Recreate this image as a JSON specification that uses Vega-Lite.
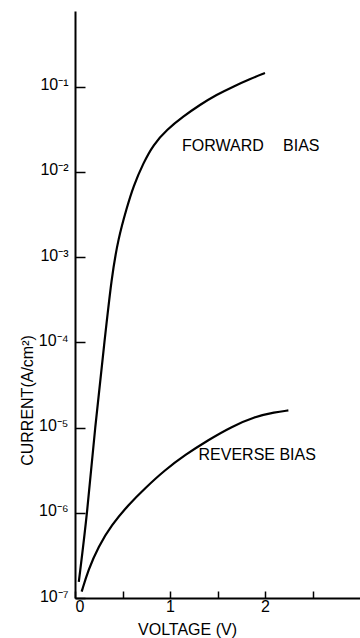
{
  "$schema": "https://vega.github.io/schema/vega-lite/v6.json",
  "width": 285,
  "height": 587,
  "autosize": {"type": "none"},
  "padding": {"left": 75, "top": 11, "right": 0, "bottom": 40},
  "background": "white",
  "config": {"view": {"stroke": null}, "font": "Liberation Sans"},
  "datasets": {
    "curves": [
      {"bias": "forward", "voltage": 0.04, "current": 1.549e-7},
      {"bias": "forward", "voltage": 0.13, "current": 1e-6},
      {"bias": "forward", "voltage": 0.21, "current": 1e-5},
      {"bias": "forward", "voltage": 0.31, "current": 1e-4},
      {"bias": "forward", "voltage": 0.386, "current": 5.888e-4},
      {"bias": "forward", "voltage": 0.456, "current": 1.660e-3},
      {"bias": "forward", "voltage": 0.544, "current": 3.750e-3},
      {"bias": "forward", "voltage": 0.614, "current": 6.761e-3},
      {"bias": "forward", "voltage": 0.719, "current": 1.265e-2},
      {"bias": "forward", "voltage": 0.824, "current": 2.075e-2},
      {"bias": "forward", "voltage": 0.965, "current": 3.112e-2},
      {"bias": "forward", "voltage": 1.14, "current": 4.457e-2},
      {"bias": "forward", "voltage": 1.316, "current": 6.109e-2},
      {"bias": "forward", "voltage": 1.49, "current": 8.017e-2},
      {"bias": "forward", "voltage": 1.666, "current": 0.1},
      {"bias": "forward", "voltage": 1.842, "current": 0.1225},
      {"bias": "forward", "voltage": 2.0, "current": 0.1439},
      {"bias": "reverse", "voltage": 0.07, "current": 1.186e-7},
      {"bias": "reverse", "voltage": 0.14, "current": 2.133e-7},
      {"bias": "reverse", "voltage": 0.245, "current": 3.999e-7},
      {"bias": "reverse", "voltage": 0.386, "current": 7.194e-7},
      {"bias": "reverse", "voltage": 0.561, "current": 1.236e-6},
      {"bias": "reverse", "voltage": 0.737, "current": 1.941e-6},
      {"bias": "reverse", "voltage": 0.947, "current": 3.177e-6},
      {"bias": "reverse", "voltage": 1.158, "current": 4.764e-6},
      {"bias": "reverse", "voltage": 1.404, "current": 7.145e-6},
      {"bias": "reverse", "voltage": 1.649, "current": 1.023e-5},
      {"bias": "reverse", "voltage": 1.895, "current": 1.343e-5},
      {"bias": "reverse", "voltage": 2.105, "current": 1.514e-5},
      {"bias": "reverse", "voltage": 2.246, "current": 1.585e-5}
    ],
    "labels": [
      {"text": "FORWARD", "voltage": 1.126, "current": 0.0173},
      {"text": "BIAS", "voltage": 2.19, "current": 0.0173},
      {"text": "REVERSE BIAS", "voltage": 1.30, "current": 4.17e-6}
    ]
  },
  "layer": [
    {
      "data": {"name": "curves"},
      "mark": {"type": "line", "color": "black", "strokeWidth": 2.2, "interpolate": "basis"},
      "encoding": {
        "x": {
          "field": "voltage", "type": "quantitative",
          "scale": {"domain": [0, 3], "nice": false, "zero": false},
          "axis": {
            "title": "VOLTAGE (V)",
            "values": [0.5, 1, 1.5, 2, 2.5, 0],
            "labelExpr": "datum.value % 1 == 0 ? format(datum.value, 'd') : ''",
            "grid": false, "ticks": true, "tickSize": -7, "tickWidth": 1.5, "tickColor": "black",
            "domainColor": "black", "domainWidth": 2,
            "labelPadding": 7, "labelFontSize": 16, "labelColor": "black",
            "labelFont": "Liberation Sans", "labelBaseline": "top",
            "titleFont": "Liberation Sans", "titleFontSize": 16, "titleFontWeight": "normal",
            "titleColor": "black", "titleX": 112, "titleY": 31, "titleBaseline": "middle", "titleAlign": "center"
          }
        },
        "y": {
          "field": "current", "type": "quantitative",
          "scale": {"type": "log", "domain": [1e-7, 0.769], "nice": false},
          "axis": {
            "title": "CURRENT(A/cm²)",
            "values": [1e-7, 1e-6, 1e-5, 1e-4, 1e-3, 1e-2, 1e-1],
            "labelExpr": "'10' + ['⁻⁷','⁻⁶','⁻⁵','⁻⁴','⁻³','⁻²','⁻¹'][round(log(datum.value)/LN10) + 7]",
            "grid": false, "ticks": true, "tickSize": -10, "tickWidth": 1.5, "tickColor": "black",
            "domainColor": "black", "domainWidth": 2,
            "labelPadding": 17, "labelFontSize": 16, "labelColor": "black",
            "labelFont": "Liberation Sans", "labelBaseline": "alphabetic", "labelOffset": 3,
            "titleFont": "Liberation Sans", "titleFontSize": 16, "titleFontWeight": "normal",
            "titleColor": "black", "titleX": -48, "titleY": 389, "titleBaseline": "middle", "titleAlign": "center", "titleAngle": -90
          }
        },
        "detail": {"field": "bias"}
      }
    },
    {
      "data": {"name": "labels"},
      "mark": {"type": "text", "align": "left", "baseline": "alphabetic", "fontSize": 16, "font": "Liberation Sans", "color": "black"},
      "encoding": {
        "x": {"field": "voltage", "type": "quantitative"},
        "y": {"field": "current", "type": "quantitative"},
        "text": {"field": "text"}
      }
    }
  ]
}
